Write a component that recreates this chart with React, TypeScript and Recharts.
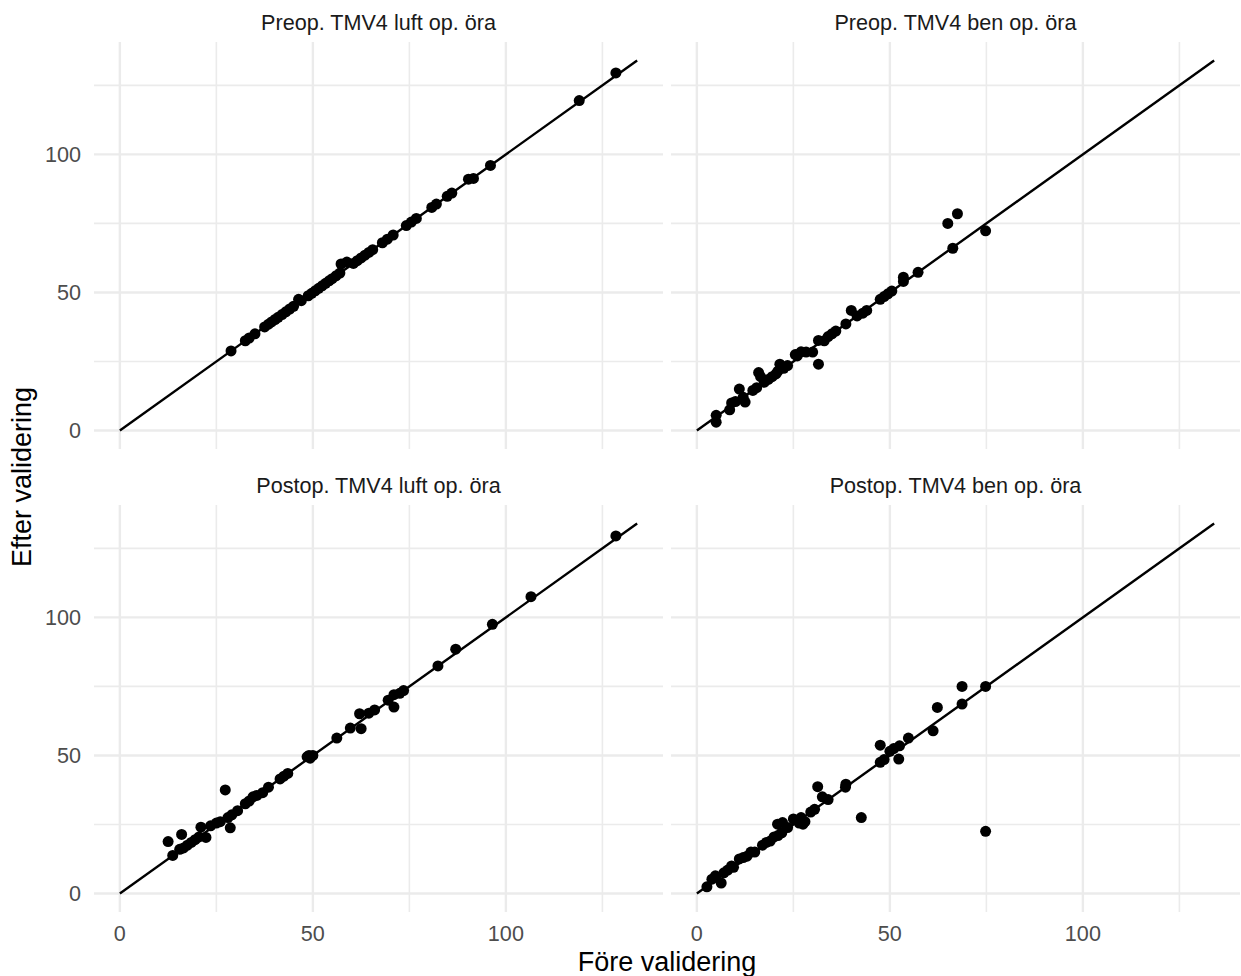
import React from "react";
import {
  ScatterChart,
  Scatter,
  XAxis,
  YAxis,
  CartesianGrid,
  ReferenceLine,
} from "recharts";

// Preop. TMV4 luft op. öra
const preLuftFore = [28.8, 32.5, 33.5, 35, 37.5, 38.5, 39.3, 40.2, 41, 42, 43, 44, 45, 46.3, 47, 48.8, 49.7, 50.6, 51.5, 52.4, 53.3, 54.2, 55, 56, 57, 57.3, 58.8, 60.5, 61.5, 62.5, 63.5, 64.5, 65.5, 68, 69.3, 70.8, 74.2, 75.5, 76.8, 80.8, 82, 84.8, 86, 90.3, 91.6, 96, 119, 128.5];
const preLuftEfter = [28.8, 32.5, 33.5, 35, 37.5, 38.5, 39.3, 40.2, 41, 42, 43, 44, 45, 47.5, 47, 48.8, 49.7, 50.6, 51.5, 52.4, 53.3, 54.2, 55, 56, 57, 60.3, 61, 60.5, 61.5, 62.5, 63.5, 64.5, 65.5, 68, 69.3, 70.8, 74.2, 75.5, 76.8, 80.8, 82, 84.8, 86, 91, 91.3, 96, 119.5, 129.5];

// Preop. TMV4 ben op. öra
const preBenFore = [5, 5, 8.5, 9, 10, 11, 12, 12.5, 14.5, 15.5, 16, 16.5, 17.5, 18.5, 19.5, 20.5, 21, 21.5, 22.5, 23.5, 25.5, 26, 27, 28.3, 30, 31.5, 31.5, 33, 34, 35, 36, 38.6, 40, 41.5, 43, 44, 47.5, 48.5, 49.5, 50.5, 53.5, 53.5, 57.3, 65, 66.3, 67.5, 74.8];
const preBenEfter = [5.5, 3, 7.5, 10, 10.5, 15, 12, 10.3, 14.5, 15.5, 21, 19.5, 17.5, 18.5, 19.5, 20.5, 21.5, 24, 22.5, 23.5, 27.5, 27, 28.5, 28.4, 28.4, 24, 32.6, 32.5, 34, 35, 36, 38.6, 43.5, 41.5, 42.5, 43.5, 47.5, 48.5, 49.5, 50.5, 54, 55.5, 57.3, 75, 66, 78.5, 72.3];

// Postop. TMV4 luft op. öra
const postLuftFore = [12.5, 13.7, 16, 15.5, 16.5, 17.5, 18.5, 19.5, 20.5, 21, 22.3, 23.5, 25, 26, 27.3, 28.6, 28, 29, 30.5, 32.5, 33.5, 34.5, 35.5, 37, 38.5, 41.5, 42.5, 43.5, 48.5, 49, 50, 49.3, 56.2, 59.7, 62.5, 62.1, 64.5, 66, 69.5, 71, 72.5, 73.5, 71, 82.4, 87, 96.5, 106.5, 128.5];
const postLuftEfter = [18.8, 13.8, 21.4, 16, 16.5, 17.5, 18.5, 19.5, 20.5, 24, 20.3, 24.5, 25.5, 26, 37.5, 23.8, 27.5, 28.5, 30, 32.5, 33.5, 35, 35.5, 36.5, 38.5, 41.5, 42.5, 43.5, 49.5, 50, 50, 49, 56.3, 59.9, 59.7, 65.1, 65.3, 66.5, 70, 72, 72.5, 73.5, 67.5, 82.4, 88.5, 97.5, 107.5, 129.5];

// Postop. TMV4 ben op. öra
const postBenFore = [2.6, 3.9, 4.8, 6.3, 7, 8, 9, 9.5, 11, 12, 13, 14, 15, 17, 18, 19, 20, 21, 22, 20.9, 22.2, 23.5, 25, 26.5, 28, 27, 27.5, 29.5, 30.5, 31.3, 32.5, 34, 38.6, 38.5, 42.6, 47.5, 47.5, 48.5, 50, 51, 52.5, 52.3, 54.8, 61.2, 62.3, 68.7, 68.7, 74.8, 74.8];
const postBenEfter = [2.4, 5.2, 6.4, 3.8, 7.5, 8.5, 10, 9.5, 12.5, 13, 13.5, 15, 15, 17.5, 18.5, 19, 20.5, 21, 22, 25.1, 25.7, 23.9, 27, 25.5, 26, 27.5, 25.1, 29.5, 30.5, 38.7, 35, 34, 39.6, 38.5, 27.5, 53.7, 47.5, 48.5, 51.5, 52.5, 53.5, 48.7, 56.3, 58.9, 67.4, 75, 68.6, 75, 22.5];

const lineEnd = 134;
const axisDomain = [-6.7, 140.7];
const majorTicks = [0, 50, 100];
const minorTicks = [25, 75, 125];

const FONT = '"Liberation Sans", Arial, sans-serif';
const GRID = "#EBEBEB";

const PANEL_W = 569;
const PANEL_H = 407;
const Y_AXIS_W = 94;
const X_AXIS_H = 50;

interface PanelProps {
  left: number;
  top: number;
  showX: boolean;
  showY: boolean;
  fore: number[];
  efter: number[];
}

const Dot = (props: any) => <circle cx={props.cx} cy={props.cy} r={5.5} fill="#000" />;

function Panel({ left, top, showX, showY, fore, efter }: PanelProps) {
  const data = fore.map((x, i) => ({ x, y: efter[i] }));
  const width = PANEL_W + (showY ? Y_AXIS_W : 0);
  const height = PANEL_H + (showX ? X_AXIS_H : 0);
  const tick = { fontSize: 21.6, fill: "#4D4D4D", fontFamily: FONT };
  return (
    <div style={{ position: "absolute", left: left - (showY ? Y_AXIS_W : 0), top }}>
      <ScatterChart width={width} height={height} margin={{ top: 0, right: 0, bottom: 0, left: 0 }}>
        <CartesianGrid stroke={GRID} strokeWidth={1.6} horizontalValues={minorTicks} verticalValues={minorTicks} />
        <CartesianGrid stroke={GRID} strokeWidth={2.4} horizontalValues={majorTicks} verticalValues={majorTicks} />
        <XAxis
          type="number"
          dataKey="x"
          domain={axisDomain}
          ticks={majorTicks}
          allowDataOverflow
          hide={!showX}
          height={X_AXIS_H}
          tickLine={false}
          axisLine={false}
          tickSize={0}
          tickMargin={14}
          tick={tick}
        />
        <YAxis
          type="number"
          dataKey="y"
          domain={axisDomain}
          ticks={majorTicks}
          allowDataOverflow
          hide={!showY}
          width={Y_AXIS_W}
          tickLine={false}
          axisLine={false}
          tickSize={0}
          tickMargin={13}
          tick={tick}
        />
        <ReferenceLine
          segment={[
            { x: 0, y: 0 },
            { x: lineEnd, y: lineEnd },
          ]}
          stroke="#000"
          strokeWidth={2.4}
        />
        <Scatter data={data} shape={Dot} isAnimationActive={false} />
      </ScatterChart>
    </div>
  );
}

const panels = [
  { title: "Preop. TMV4 luft op. öra", left: 94, top: 42, showX: false, showY: true, fore: preLuftFore, efter: preLuftEfter },
  { title: "Preop. TMV4 ben op. öra", left: 671, top: 42, showX: false, showY: false, fore: preBenFore, efter: preBenEfter },
  { title: "Postop. TMV4 luft op. öra", left: 94, top: 505, showX: true, showY: true, fore: postLuftFore, efter: postLuftEfter },
  { title: "Postop. TMV4 ben op. öra", left: 671, top: 505, showX: true, showY: false, fore: postBenFore, efter: postBenEfter },
];

export default function App() {
  return (
    <div
      style={{
        position: "absolute",
        left: 0,
        top: 0,
        width: 1241,
        height: 976,
        background: "#fff",
        fontFamily: FONT,
        overflow: "hidden",
      }}
    >
      {panels.map((p) => (
        <Panel key={p.title} left={p.left} top={p.top} showX={p.showX} showY={p.showY} fore={p.fore} efter={p.efter} />
      ))}
      <svg width={1241} height={976} style={{ position: "absolute", left: 0, top: 0, pointerEvents: "none" }}>
        {panels.map((p) => (
          <text
            key={p.title}
            x={p.left + PANEL_W / 2}
            y={p.top - 12.5}
            textAnchor="middle"
            fontSize={21.6}
            fill="#1A1A1A"
            fontFamily={FONT}
          >
            {p.title}
          </text>
        ))}
        <text x={667} y={971} textAnchor="middle" fontSize={27} fill="#000" fontFamily={FONT}>
          Före validering
        </text>
        <text
          x={0}
          y={0}
          transform="translate(31,477) rotate(-90)"
          textAnchor="middle"
          fontSize={27}
          fill="#000"
          fontFamily={FONT}
        >
          Efter validering
        </text>
      </svg>
    </div>
  );
}
